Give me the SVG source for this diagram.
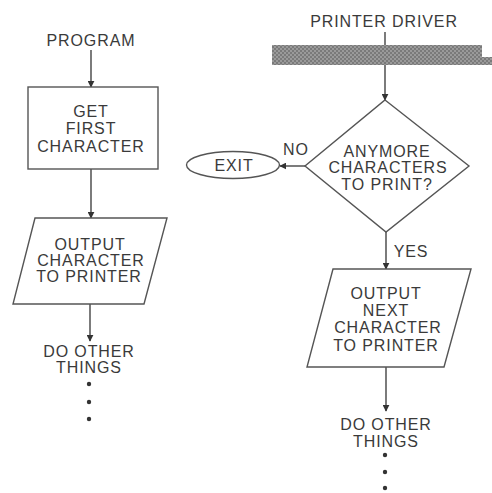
<svg xmlns="http://www.w3.org/2000/svg" width="492" height="493" viewBox="0 0 492 493">
<style>
text{font-family:"Liberation Sans",Arial,sans-serif;font-size:16px;fill:#3a3a3a;text-anchor:middle;letter-spacing:0.9px}
.shape{fill:#fff;stroke:#555;stroke-width:1.4}
.conn{stroke:#444;stroke-width:1.4;fill:none}
.dot{fill:#333}
</style>
<defs>
<marker id="arr" viewBox="0 0 10 10" refX="9" refY="5" markerWidth="7" markerHeight="7" markerUnits="userSpaceOnUse" orient="auto">
<path d="M0,0 L10,5 L0,10 z" fill="#333"/>
</marker>
<pattern id="hatch" width="4" height="4" patternUnits="userSpaceOnUse">
<rect width="4" height="4" fill="#7a7a7a"/>
<rect width="2" height="2" fill="#9a9a9a"/>
<rect x="2" y="2" width="2" height="2" fill="#9a9a9a"/>
</pattern>
</defs>
<rect width="492" height="493" fill="#fff"/>
<g id="connectors">
<line class="conn" x1="91" y1="50" x2="91" y2="87" marker-end="url(#arr)"/>
<line class="conn" x1="91" y1="169" x2="91" y2="218" marker-end="url(#arr)"/>
<line class="conn" x1="90" y1="304" x2="90" y2="341" marker-end="url(#arr)"/>
<line class="conn" x1="385" y1="32" x2="385" y2="45"/>
<line class="conn" x1="385" y1="65" x2="385" y2="100" marker-end="url(#arr)"/>
<line class="conn" x1="305" y1="166" x2="280" y2="166" marker-end="url(#arr)"/>
<line class="conn" x1="386" y1="232" x2="386" y2="269" marker-end="url(#arr)"/>
<line class="conn" x1="386" y1="367" x2="386" y2="411" marker-end="url(#arr)"/>
</g>
<g id="program"><text x="91" y="46">PROGRAM</text></g>
<g id="get-first">
<rect class="shape" x="28" y="87" width="130" height="82"/>
<text x="91" y="117">GET</text>
<text x="91" y="134">FIRST</text>
<text x="91" y="152">CHARACTER</text>
</g>
<g id="output-char">
<polygon class="shape" points="35,218 167,218 144,304 13,304"/>
<text x="90" y="250">OUTPUT</text>
<text x="91" y="266">CHARACTER</text>
<text x="89" y="282">TO PRINTER</text>
</g>
<g id="do-other-left">
<text x="89" y="357">DO OTHER</text>
<text x="89" y="373">THINGS</text>
<circle class="dot" cx="89" cy="384" r="2.2"/>
<circle class="dot" cx="89" cy="402" r="2.2"/>
<circle class="dot" cx="89" cy="419" r="2.2"/>
</g>
<g id="printer-driver">
<text x="384" y="27">PRINTER DRIVER</text>
<path d="M272,45 H482 V57 H492 V65 H272 Z" fill="url(#hatch)"/>
</g>
<g id="decision">
<polygon class="shape" points="385,100 469,166 386,232 305,166"/>
<text x="387" y="157">ANYMORE</text>
<text x="388" y="173">CHARACTERS</text>
<text x="387" y="190">TO PRINT?</text>
</g>
<g id="no-label"><text x="296" y="155">NO</text></g>
<g id="exit">
<ellipse class="shape" cx="233" cy="165" rx="46.5" ry="13.5"/>
<text x="234" y="171">EXIT</text>
</g>
<g id="yes-label"><text x="411" y="257">YES</text></g>
<g id="output-next">
<polygon class="shape" points="333,269 471,269 444,367 307,367"/>
<text x="386" y="299">OUTPUT</text>
<text x="386" y="316">NEXT</text>
<text x="388" y="333">CHARACTER</text>
<text x="386" y="351">TO PRINTER</text>
</g>
<g id="do-other-right">
<text x="386" y="430">DO OTHER</text>
<text x="386" y="447">THINGS</text>
<circle class="dot" cx="385" cy="455" r="2.2"/>
<circle class="dot" cx="385" cy="472" r="2.2"/>
<circle class="dot" cx="385" cy="488" r="2.2"/>
</g>
</svg>
